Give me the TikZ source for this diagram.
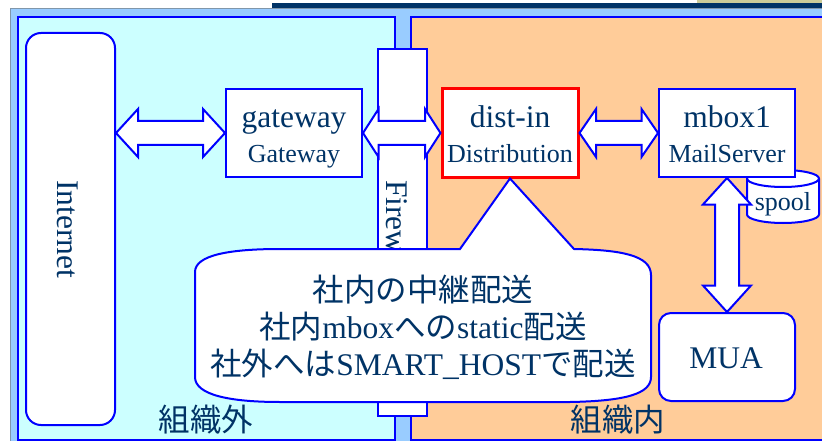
\documentclass[tikz,border=0pt]{standalone}
\usepackage{fontspec}
\setmainfont{Liberation Serif}
\newfontfamily\cjk{Noto Sans CJK JP}
\usetikzlibrary{calc}
\definecolor{txt}{RGB}{0,51,102}
\definecolor{navybar}{RGB}{0,51,102}
\definecolor{khakibar}{RGB}{204,204,153}
\definecolor{outerblue}{RGB}{153,204,255}
\definecolor{cyanpanel}{RGB}{204,255,255}
\definecolor{orangepanel}{RGB}{255,204,153}
\definecolor{edgegray}{RGB}{128,150,170}
\newcommand\hdarrow[3]{%
  \draw[arr] (#1) -- ($(#1)+(#3,-24)$) -- ($(#1)+(#3,-12)$) -- ($(#2)+(-#3,-12)$)
    -- ($(#2)+(-#3,-24)$) -- (#2) -- ($(#2)+(-#3,24)$) -- ($(#2)+(-#3,12)$)
    -- ($(#1)+(#3,12)$) -- ($(#1)+(#3,24)$) -- cycle;}
\newcommand\vdarrow[3]{%
  \draw[arr] (#1) -- ($(#1)+(-24,#3)$) -- ($(#1)+(-12,#3)$) -- ($(#2)+(-12,-#3)$)
    -- ($(#2)+(-24,-#3)$) -- (#2) -- ($(#2)+(24,-#3)$) -- ($(#2)+(12,-#3)$)
    -- ($(#1)+(12,#3)$) -- ($(#1)+(24,#3)$) -- cycle;}
\begin{document}
\begin{tikzpicture}[x=1pt,y=-1pt,
  box/.style={draw=blue, line width=2pt, fill=white, inner sep=0pt},
  arr/.style={draw=blue, line width=2pt, fill=white, line join=miter},
  big/.style={font=\fontsize{31.5}{37}\selectfont, text=txt, inner sep=0pt},
  small/.style={font=\fontsize{26}{30}\selectfont, text=txt, inner sep=0pt}]
\path[use as bounding box] (0,0) rectangle (822,441);
\fill[white] (0,0) rectangle (822,441);
\fill[khakibar] (697,0) rectangle (822,3);
\fill[navybar] (272,3) rectangle (822,9);
\fill[outerblue] (10,9) rectangle (822,441);
\draw[edgegray, line width=1pt] (10,442) -- (10,9) -- (822,9);
% panels
\draw[blue, line width=2pt, fill=cyanpanel] (18,17) rectangle (395,440);
\draw[blue, line width=2pt, fill=orangepanel] (411,17) rectangle (826,440);
% firewall
\node[box, minimum width=49, minimum height=367] (firewall) at (402.5,232.5) {};
\node[big, rotate=-90] (fwtext) at (397,232.5) {Firewall};
% internet
\node[box, rounded corners=15pt, minimum width=89, minimum height=392] (internet) at (70.5,229) {};
\node[big, rotate=-90] (inttext) at (68,229) {Internet};
% gateway
\node[box, minimum width=136, minimum height=88] (gateway) at (294,133) {};
\node[big, anchor=base] (gwa) at (294,128) {gateway};
\node[small, anchor=base] (gwb) at (294,162) {Gateway};
\coordinate (inetport) at (internet.east |- gateway.west);
% dist-in
\node[box, draw=red, line width=3pt, minimum width=136, minimum height=88] (distin) at (510,133) {};
\node[big, anchor=base] (dia) at (510,128) {dist-in};
\node[small, anchor=base] (dib) at (510,162) {Distribution};
% spool
\filldraw[draw=blue, line width=2pt, fill=white] (747,178.5) -- (747,214.5)
  arc[start angle=180, end angle=0, x radius=36, y radius=8.5] -- (819,178.5)
  arc[start angle=0, end angle=-180, x radius=36, y radius=8.5] -- cycle;
\draw[blue, line width=2pt] (747,178.5) arc[start angle=180, end angle=0, x radius=36, y radius=8.5];
\node[small, anchor=base] (spool) at (783,210) {spool};
% mbox1
\node[box, minimum width=136, minimum height=88] (mbox) at (727,133) {};
\node[big, anchor=base] (mba) at (727,128) {mbox1};
\node[small, anchor=base] (mbb) at (727,162) {MailServer};
% MUA
\node[box, rounded corners=12pt, minimum width=136, minimum height=88] (mua) at (727,357) {};
\node[big, anchor=base] (muat) at (726,368) {MUA};
% arrows
\hdarrow{inetport}{gateway.west}{22}
\hdarrow{gateway.east}{distin.west}{15.5}
\hdarrow{distin.east}{mbox.west}{16.5}
\vdarrow{mbox.south}{mua.north}{26.5}
% callout
\draw[box] (280,249) -- (460,249) -- (distin.south) -- (574,249)
  .. controls (620,250) and (651,255) .. (651,275) -- (651,377)
  .. controls (651,394) and (625,401) .. (570,402) -- (280,402)
  .. controls (230,402) and (195,395) .. (195,377) -- (195,272)
  .. controls (195,255) and (230,249) .. (280,249) -- cycle;
\node[big, align=center] (note) at (423,327.5)
  {{\cjk 社内の中継配送}\\{\cjk 社内}mbox{\cjk への}static{\cjk 配送}\\{\cjk 社外へは}SMART\_HOST{\cjk で配送}};
% area labels
\node[big] (outside) at (206,420) {\cjk 組織外};
\node[big] (inside) at (618,420) {\cjk 組織内};
\end{tikzpicture}
\end{document}
